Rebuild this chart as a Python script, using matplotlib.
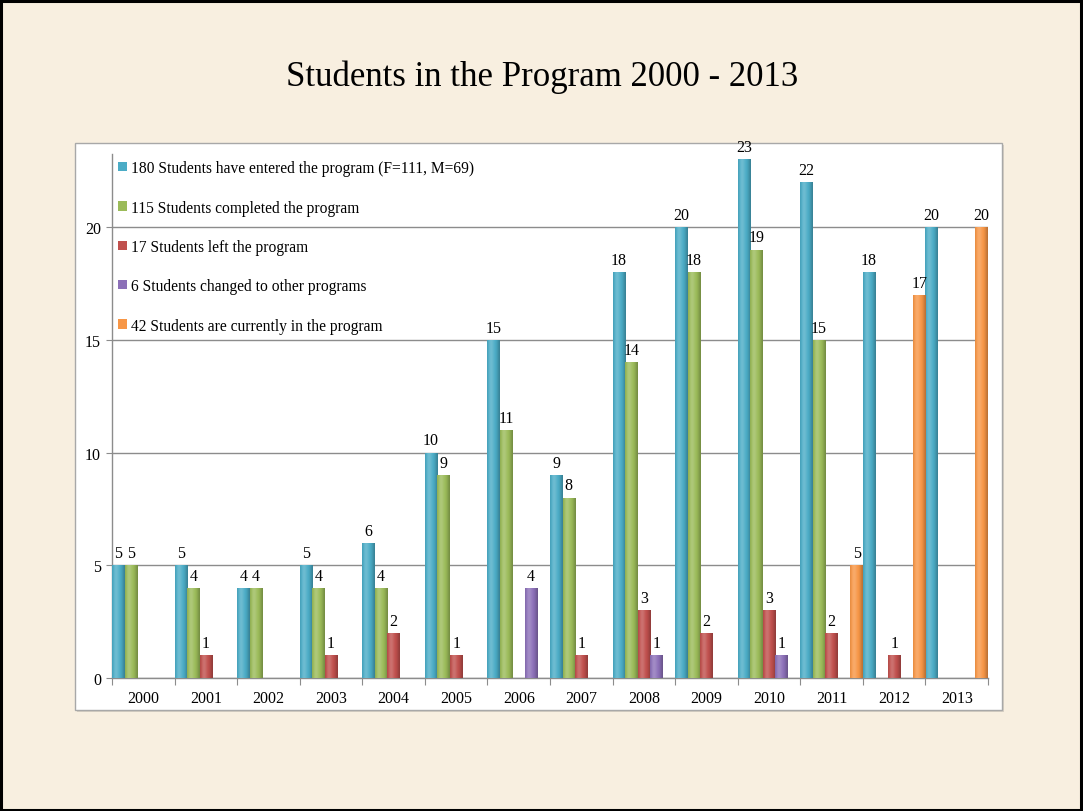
import numpy as np
import matplotlib
matplotlib.use("Agg")
import matplotlib.pyplot as plt
from matplotlib.patches import Rectangle, Patch
from matplotlib.colors import to_rgb

years = ["2000", "2001", "2002", "2003", "2004", "2005", "2006",
         "2007", "2008", "2009", "2010", "2011", "2012", "2013"]

entered = [5, 5, 4, 5, 6, 10, 15, 9, 18, 20, 23, 22, 18, 20]
completed = [5, 4, 4, 4, 4, 9, 11, 8, 14, 18, 19, 15, 0, 0]
left_prog = [0, 1, 0, 1, 2, 1, 0, 1, 3, 2, 3, 2, 1, 0]
changed = [0, 0, 0, 0, 0, 0, 4, 0, 1, 0, 1, 0, 0, 0]
current = [0, 0, 0, 0, 0, 0, 0, 0, 0, 0, 0, 5, 17, 20]

series_labels = [
    "180 Students have entered the program (F=111, M=69)",
    "115 Students completed the program",
    "17 Students left the program",
    "6 Students changed to other programs",
    "42 Students are currently in the program",
]
series_colors = ["#4BACC6", "#9BBB59", "#C0504D", "#8C70B8", "#F79646"]
series = [entered, completed, left_prog, changed, current]

plt.rcParams["font.family"] = ["Liberation Serif", "DejaVu Serif"]

W, H = 1083, 812
fig = plt.figure(figsize=(W / 100, H / 100), dpi=100)
fig.patch.set_facecolor("#F8EFE0")

# slide frame
fig.add_artist(Rectangle((0.001, 0.001), 0.997, 0.997, transform=fig.transFigure,
                         fill=False, edgecolor="black", linewidth=2.2, zorder=10))

# chart area box with a soft shadow, kept behind the axes
bx, by, bw, bh = 75 / W, (H - 711) / H, 927 / W, 567 / H
fig.add_artist(Rectangle((bx + 2 / W, by - 2 / H), bw, bh, transform=fig.transFigure,
                         facecolor="#D8D0C4", edgecolor="none", zorder=-2))
fig.add_artist(Rectangle((bx, by), bw, bh, transform=fig.transFigure,
                         facecolor="white", edgecolor="#A8A8A8", linewidth=1.0, zorder=-1))

fig.text(542 / W, 1 - 77 / H, "Students in the Program 2000 - 2013",
         ha="center", va="center", fontsize=25, color="black")

ax = fig.add_axes([112 / W, (H - 679) / H, (988 - 112) / W, (679 - 155) / H])
ax.set_facecolor("none")

x = np.arange(len(years))
n = len(series)
bw_bar = 1.0 / n


def shade(color, f):
    c = np.array(to_rgb(color))
    if f >= 0:
        return c + (1 - c) * f
    return c * (1 + f)


# cylinder-like horizontal shading profile across each bar
prof = np.array([-0.06, 0.08, 0.18, 0.20, 0.14, 0.06, 0.0, -0.06, -0.14, -0.24])

for k, (vals, col, lab) in enumerate(zip(series, series_colors, series_labels)):
    pos = x + (k - (n - 1) / 2) * bw_bar
    bars = ax.bar(pos, vals, width=bw_bar, color=col, edgecolor="none",
                  label=lab, zorder=3)
    grad = np.array([shade(col, f) for f in prof])[None, :, :]
    for r, v in zip(bars, vals):
        if v <= 0:
            continue
        x0 = r.get_x()
        im = ax.imshow(grad, extent=(x0, x0 + r.get_width(), 0, v), aspect="auto",
                       interpolation="bicubic", zorder=3.5)
        im.set_clip_path(r)
    labels = [str(v) if v > 0 else "" for v in vals]
    ax.bar_label(bars, labels=labels, padding=3, fontsize=11.5, color="black", zorder=5)

ax.set_xlim(-0.5, len(years) - 0.5)
ax.set_ylim(0, 23.24)

ax.set_yticks([0, 5, 10, 15, 20])
ax.yaxis.grid(True, color="#8C8C8C", linewidth=1.0, zorder=1)
ax.set_axisbelow(True)
ax.tick_params(axis="y", length=4, color="#8C8C8C", labelsize=11.5, pad=4)

ax.set_xticks(np.arange(-0.5, len(years), 1.0))
ax.set_xticklabels([])
ax.set_xticks(x, minor=True)
ax.set_xticklabels(years, minor=True)
ax.tick_params(axis="x", which="major", length=5, color="#8C8C8C")
ax.tick_params(axis="x", which="minor", length=0, labelsize=11.5, pad=9)

for s in ["top", "right"]:
    ax.spines[s].set_visible(False)
for s in ["left", "bottom"]:
    ax.spines[s].set_color("#8C8C8C")
    ax.spines[s].set_linewidth(1.0)

handles = [Patch(facecolor=c, edgecolor="none") for c in series_colors]
leg = ax.legend(handles, series_labels, loc="upper left", bbox_to_anchor=(0.0, 1.0),
                frameon=False, fontsize=11.2, handlelength=0.55, handleheight=0.55,
                handletextpad=0.25, labelspacing=1.5, borderaxespad=0.0)
leg.set_zorder(6)

fig.savefig("out.png", dpi=100, facecolor=fig.get_facecolor())
